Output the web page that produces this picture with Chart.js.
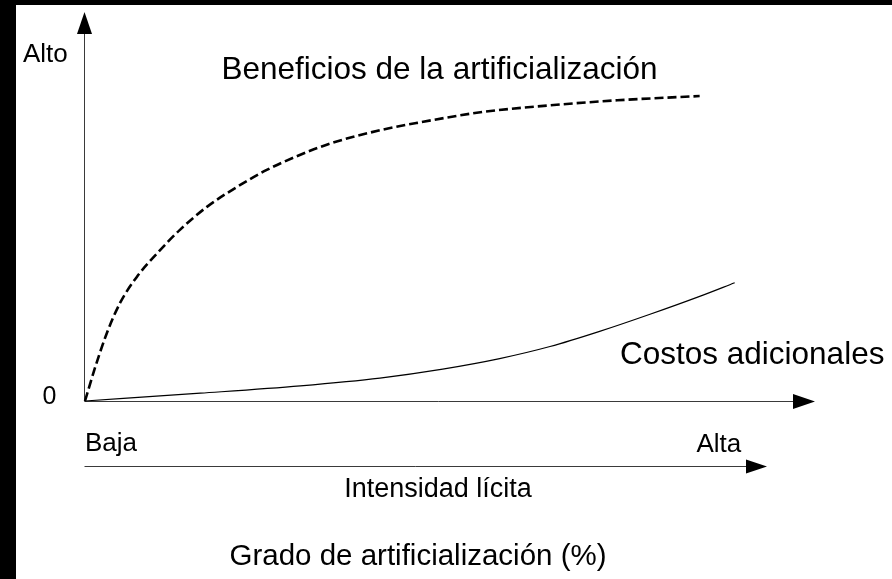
<!DOCTYPE html>
<html>
<head>
<meta charset="utf-8">
<script src="https://cdn.jsdelivr.net/npm/chart.js@4.4.1/dist/chart.umd.min.js"></script>
<style>
  html, body { margin: 0; padding: 0; background: #000; }
  #wrap { position: absolute; left: 16px; top: 5px; width: 876px; height: 574px; background: #fff; }
  canvas { display: block; }
</style>
</head>
<body>
<div id="wrap"><canvas id="curveChart" width="876" height="574"></canvas></div>
<script>
// intensity (0 = baja, 100 = arrow tip) and level (0 = origin, 100 = alto)
var benefitX = [0, 1.4, 3.0, 4.8, 7.1, 9.9, 13.0, 16.7, 20.8, 24.9, 29.0, 33.6, 40.4, 45.5, 54.5, 63.7, 72.9, 84.2];
var benefitY = [0, 8.7, 17.5, 25.2, 31.9, 38.0, 44.0, 49.9, 55.0, 59.4, 62.9, 66.2, 69.6, 71.5, 74.3, 76.0, 77.3, 78.4];
var costX = [0, 15.8, 29.5, 40.4, 49.0, 56.8, 63.7, 70.5, 77.4, 84.2, 89.0];
var costY = [0, 2.0, 3.9, 5.9, 8.2, 10.9, 14.0, 17.9, 22.3, 26.9, 30.4];

var yLabels = ["0", "Alto"];
var xLabels = ["Baja", "Alta"];
var seriesNames = ["Beneficios de la artificialización", "Costos adicionales"];
var axisTitle = "Intensidad lícita";
var mainTitle = "Grado de artificialización (%)";

function toPoints(xs, ys) {
    var pts = [];
    for (var i = 0; i < xs.length; i++) {
        pts.push({ x: xs[i], y: ys[i] });
    }
    return pts;
}

function arrow(ctx, x1, y1, x2, y2, headLen, headHalf) {
    var ang = Math.atan2(y2 - y1, x2 - x1);
    var bx = x2 - headLen * Math.cos(ang);
    var by = y2 - headLen * Math.sin(ang);
    ctx.beginPath();
    ctx.moveTo(x1, y1);
    ctx.lineTo(bx, by);
    ctx.stroke();
    ctx.beginPath();
    ctx.moveTo(x2, y2);
    ctx.lineTo(bx + headHalf * Math.sin(ang), by - headHalf * Math.cos(ang));
    ctx.lineTo(bx - headHalf * Math.sin(ang), by + headHalf * Math.cos(ang));
    ctx.closePath();
    ctx.fill();
}

var sketchAxes = {
    id: 'sketchAxes',
    beforeDatasetsDraw: function (chart) {
        var ctx = chart.ctx;
        var a = chart.chartArea;
        ctx.save();
        ctx.lineWidth = 1;
        ctx.strokeStyle = '#3a3a3a';
        ctx.fillStyle = '#000';
        // y axis
        arrow(ctx, a.left - 0.5, a.bottom + 0.5, a.left - 0.5, a.top, 22, 7.5);
        // x axis
        arrow(ctx, a.left - 0.5, a.bottom + 0.5, a.right, a.bottom + 0.5, 22, 7.5);
        // second (intensity) arrow
        arrow(ctx, a.left - 0.5, 461.5, 751, 461.5, 21, 7);
        ctx.restore();
    },
    afterDraw: function (chart) {
        var ctx = chart.ctx;
        ctx.save();
        ctx.fillStyle = '#000';
        ctx.textBaseline = 'alphabetic';
        ctx.textAlign = 'left';
        ctx.font = '26px "Liberation Sans", Arial, sans-serif';
        ctx.fillText(yLabels[1], 7, 56.5);
        ctx.fillText(xLabels[0], 69, 446);
        ctx.fillText(xLabels[1], 680.5, 446.5);
        ctx.font = '25px "Liberation Sans", Arial, sans-serif';
        ctx.fillText(yLabels[0], 26.5, 399);
        ctx.font = '31.5px "Liberation Sans", Arial, sans-serif';
        ctx.fillText(seriesNames[0], 205.5, 73.5);
        ctx.fillText(seriesNames[1], 604, 358.5);
        ctx.textAlign = 'center';
        ctx.font = '27px "Liberation Sans", Arial, sans-serif';
        ctx.fillText(axisTitle, 422, 491.5);
        ctx.font = '29.5px "Liberation Sans", Arial, sans-serif';
        ctx.fillText(mainTitle, 402, 560);
        ctx.restore();
    }
};

new Chart(document.getElementById("curveChart"), {
    type: 'scatter',
    data: {
        datasets: [{
            label: seriesNames[0],
            data: toPoints(benefitX, benefitY),
            showLine: true,
            borderColor: '#000',
            borderWidth: 2.6,
            borderDash: [9, 4],
            pointRadius: 0,
            cubicInterpolationMode: 'monotone',
            clip: false
        }, {
            label: seriesNames[1],
            data: toPoints(costX, costY),
            showLine: true,
            borderColor: '#000',
            borderWidth: 1.2,
            pointRadius: 0,
            cubicInterpolationMode: 'monotone',
            clip: false
        }]
    },
    options: {
        responsive: false,
        animation: false,
        devicePixelRatio: 1,
        layout: {
            padding: { left: 69, right: 77, top: 7, bottom: 178 }
        },
        scales: {
            x: { type: 'linear', min: 0, max: 100, display: false },
            y: { type: 'linear', min: 0, max: 100, display: false }
        },
        plugins: {
            legend: { display: false },
            tooltip: { enabled: false }
        }
    },
    plugins: [sketchAxes]
});
</script>
</body>
</html>
